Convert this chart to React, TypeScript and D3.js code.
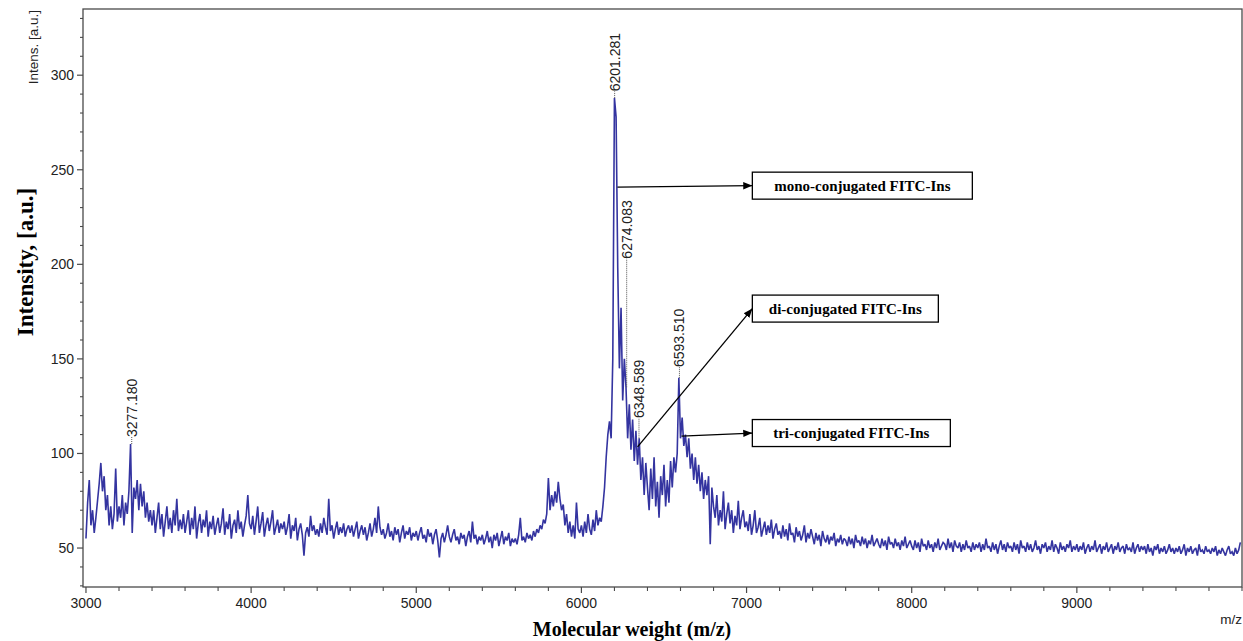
import React from "react";
import * as d3 from "d3";

// ---- data ----
const MZ_START = 3000;
const MZ_STEP = 10;
const intensity: number[] = [
  // 3000
  55, 74, 86, 62, 70, 58, 66, 75, 84, 95, 80, 88, 70, 78, 62, 72, 60, 68, 92, 64,
  // 3200
  72, 66, 78, 62, 74, 68, 80, 105, 58, 82, 76, 86, 70, 84, 72, 80, 66, 74, 64, 70,
  // 3400
  62, 70, 58, 66, 74, 60, 68, 56, 64, 72, 60, 66, 58, 70, 62, 76, 59, 65, 60, 68,
  // 3600
  58, 64, 70, 57, 66, 60, 72, 55, 63, 68, 58, 65, 61, 70, 56, 64, 60, 67, 57, 62,
  // 3800
  66, 58, 63, 71, 57, 64, 60, 68, 55, 62, 65, 58, 70, 60, 64, 56, 62, 67, 78, 63,
  // 4000
  60, 67, 57, 64, 72, 58, 63, 69, 56, 62, 66, 59, 64, 70, 57, 61, 65, 58, 63, 60,
  // 4200
  64, 57, 61, 68, 55, 62, 59, 66, 54, 60, 63, 57, 46, 58, 61, 56, 67, 59, 62, 57,
  // 4400
  60, 56, 63, 58, 66, 61, 57, 76, 59, 62, 55, 60, 64, 57, 61, 58, 63, 56, 60, 62,
  // 4600
  58, 62, 56, 60, 64, 55, 59, 62, 57, 61, 54, 58, 63, 56, 60, 66, 58, 72, 61, 57,
  // 4800
  60, 55, 58, 63, 56, 59, 54, 61, 57, 60, 53, 58, 62, 55, 59, 57, 61, 54, 58, 56,
  // 5000
  59, 54, 58, 61, 55, 57, 53, 60, 56, 58, 52, 57, 60, 54, 45, 55, 58, 53, 57, 62,
  // 5200
  56, 53, 57, 60, 54, 56, 52, 58, 55, 57, 51, 56, 59, 53, 64, 55, 57, 52, 56, 54,
  // 5400
  57, 52, 55, 59, 53, 56, 50, 57, 54, 58, 51, 55, 59, 52, 56, 54, 58, 51, 55, 53,
  // 5600
  55, 52, 57, 66, 54, 56, 53, 58, 55, 57, 54, 59, 56, 60, 58, 62, 60, 65, 63, 68,
  // 5800
  87, 70, 78, 72, 80, 74, 85, 76, 70, 73, 62, 68, 58, 64, 56, 62, 55, 74, 60, 58,
  // 6000
  62, 56, 64, 58, 68, 60, 57, 65, 59, 70, 62, 66, 64, 72, 82, 98, 110, 117, 108, 150,
  // 6200
  288, 278, 198, 145, 177, 128, 150, 135, 108, 126, 102, 118, 96, 112, 94, 108, 86, 98, 78, 95,
  // 6400
  82, 70, 92, 76, 98, 72, 85, 66, 88, 78, 94, 72, 86, 74, 96, 82, 98, 90, 100, 140,
  // 6600
  108, 119, 104, 110, 98, 108, 92, 100, 86, 98, 84, 94, 80, 90, 76, 86, 78, 88, 52, 82,
  // 6800
  72, 66, 78, 62, 70, 64, 80, 60, 68, 74, 63, 70, 58, 67, 62, 75, 60, 66, 70, 61,
  // 7000
  64, 59, 68, 57, 62, 70, 58, 61, 66, 56, 60, 64, 57, 62, 58, 65, 55, 60, 63, 57,
  // 7200
  59, 55, 62, 56, 60, 54, 63, 57, 58, 53, 61, 56, 59, 54, 57, 62, 53, 58, 55, 60,
  // 7400
  56, 52, 58, 54, 57, 51, 59, 55, 53, 57, 52, 56, 54, 58, 51, 55, 53, 57, 52, 55,
  // 7600
  54, 51, 56, 52, 55, 50, 57, 53, 54, 51, 56, 52, 55, 50, 54, 52, 57, 51, 53, 55,
  // 7800
  52, 50, 55, 51, 54, 49, 56, 52, 53, 50, 55, 51, 53, 49, 54, 51, 56, 50, 52, 54,
  // 8000
  51, 49, 54, 50, 53, 48, 55, 51, 52, 49, 54, 50, 52, 48, 53, 50, 55, 49, 51, 53,
  // 8200
  52, 49, 55, 50, 53, 48, 54, 51, 50, 53, 48, 52, 49, 54, 50, 51, 48, 53, 49, 52,
  // 8400
  50, 53, 48, 52, 49, 55, 50, 51, 48, 53, 49, 52, 47, 51, 54, 49, 52, 48, 53, 50,
  // 8600
  51, 48, 53, 49, 52, 47, 54, 50, 51, 48, 53, 49, 52, 48, 50, 54, 49, 51, 47, 52,
  // 8800
  50, 53, 48, 51, 49, 54, 48, 52, 50, 47, 53, 49, 51, 48, 52, 50, 54, 48, 51, 49,
  // 9000
  52, 48, 51, 49, 53, 47, 50, 52, 48, 51, 49, 54, 48, 50, 52, 47, 51, 49, 53, 48,
  // 9200
  50, 52, 47, 51, 49, 53, 48, 50, 51, 47, 52, 49, 50, 48, 53, 47, 50, 52, 48, 51,
  // 9400
  49, 51, 47, 52, 48, 50, 46, 51, 49, 52, 47, 50, 48, 51, 47, 49, 52, 48, 50, 47,
  // 9600
  50, 48, 51, 47, 49, 52, 46, 50, 48, 51, 47, 49, 50, 46, 52, 48, 49, 47, 51, 48,
  // 9800
  49, 47, 50, 48, 51, 46, 49, 47, 50, 48, 46, 49, 51, 47, 48, 46, 50, 47, 49, 53,
];

// labelled peaks
const peakMz = [3277.18, 6201.281, 6274.083, 6348.589, 6593.51];
const peakLabels = ["3277.180", "6201.281", "6274.083", "6348.589", "6593.510"];
const peakTop = [105, 288, 135, 108, 140]; // where the dotted leader starts
const peakLabelAt = [108.7, 291.5, 203, 118.7, 145.7]; // where the label starts

// annotations
const annoText = ["mono-conjugated FITC-Ins", "di-conjugated FITC-Ins", "tri-conjugated FITC-Ins"];
const annoFromMz = [6218, 6340, 6606];
const annoFromVal = [240.8, 103.5, 109.2];
const annoBoxMz = [7035, 7035, 7035];
const annoBoxVal = [241.6, 176.6, 110.8];
const annoBoxW = [220, 186, 198];

const xTicksMajor = [3000, 4000, 5000, 6000, 7000, 8000, 9000];
const yTicksMajor = [50, 100, 150, 200, 250, 300];

export default function App() {
  const W = 1243, H = 641;
  const L = 83, R = 1242, T = 9, B = 587;
  const x = d3.scaleLinear().domain([2982, 10000]).range([L, R]);
  const y = d3.scaleLinear().domain([29.4, 335]).range([B, T]);

  const pts: [number, number][] = intensity.map((v, i) => [MZ_START + i * MZ_STEP, v]);
  const line = d3.line<[number, number]>().x(d => x(d[0])).y(d => y(d[1]));

  const xMinor = d3.range(3000, 10001, 200).filter(v => v % 1000 !== 0 || v === 10000);
  const yMinor = d3.range(30, 335, 10).filter(v => v % 50 !== 0);

  const axisColor = "#4a4a4a";
  const sans = "'Liberation Sans', Arial, sans-serif";
  const serif = "'Liberation Serif', 'Times New Roman', serif";

  return (
    <svg width={W} height={H} style={{ position: "absolute", left: 0, top: 0, background: "#fff" }}>
      <defs>
        <marker id="arr" viewBox="0 0 10 10" refX="10" refY="5" markerWidth="7" markerHeight="7" orient="auto">
          <path d="M0,1 L10,5 L0,9 z" fill="#000" />
        </marker>
      </defs>

      {/* spectrum */}
      <path d={line(pts) || ""} fill="none" stroke="#3434a0" strokeWidth={1.6} strokeLinejoin="miter" strokeMiterlimit={2} />

      {/* frame */}
      <rect x={L} y={T} width={R - L} height={B - T} fill="none" stroke={axisColor} strokeWidth={1.3} />

      {/* y ticks */}
      {yTicksMajor.map(v => (
        <g key={"ym" + v}>
          <line x1={L - 6} x2={L} y1={y(v)} y2={y(v)} stroke={axisColor} strokeWidth={1.2} />
          <text x={L - 9} y={y(v)} dy="0.35em" textAnchor="end" fontFamily={sans} fontSize={14} fill="#222">{v}</text>
        </g>
      ))}
      {yMinor.map(v => (
        <line key={"yn" + v} x1={L - 3} x2={L} y1={y(v)} y2={y(v)} stroke={axisColor} strokeWidth={1.1} />
      ))}

      {/* x ticks */}
      {xTicksMajor.map(v => (
        <g key={"xm" + v}>
          <line x1={x(v)} x2={x(v)} y1={B} y2={B + 6} stroke={axisColor} strokeWidth={1.2} />
          <text x={x(v)} y={608} textAnchor="middle" fontFamily={sans} fontSize={14} fill="#222">{v}</text>
        </g>
      ))}
      {xMinor.map(v => (
        <line key={"xn" + v} x1={x(v)} x2={x(v)} y1={B} y2={B + 4} stroke={axisColor} strokeWidth={1.1} />
      ))}

      {/* axis titles */}
      <text transform={`translate(38,10) rotate(-90)`} textAnchor="end" fontFamily={sans} fontSize={13.5} fill="#222">Intens. [a.u.]</text>
      <text transform={`translate(33,262) rotate(-90)`} textAnchor="middle" fontFamily={serif} fontWeight="bold" fontSize={23} fill="#000">Intensity, [a.u.]</text>
      <text x={632} y={636} textAnchor="middle" fontFamily={serif} fontWeight="bold" fontSize={20} fill="#000">Molecular weight (m/z)</text>
      <text x={1242} y={624} textAnchor="end" fontFamily={sans} fontSize={13.5} fill="#222">m/z</text>

      {/* peak labels */}
      {peakMz.map((m, i) => (
        <g key={"pk" + i}>
          <line x1={x(m)} x2={x(m)} y1={y(peakTop[i])} y2={y(peakLabelAt[i])} stroke="#555" strokeWidth={1} strokeDasharray="1,1" />
          <text transform={`translate(${x(m)},${y(peakLabelAt[i])}) rotate(-90)`} dy="0.36em" textAnchor="start" fontFamily={sans} fontSize={14} fill="#222">{peakLabels[i]}</text>
        </g>
      ))}

      {/* annotations */}
      {annoText.map((t, i) => {
        const bx = x(annoBoxMz[i]);
        const by = y(annoBoxVal[i]);
        const bh = 27;
        return (
          <g key={"an" + i}>
            <line x1={x(annoFromMz[i])} y1={y(annoFromVal[i])} x2={bx} y2={by} stroke="#000" strokeWidth={1.3} markerEnd="url(#arr)" />
            <rect x={bx} y={by - bh / 2} width={annoBoxW[i]} height={bh} fill="#fff" stroke="#000" strokeWidth={1.3} />
            <text x={bx + annoBoxW[i] / 2} y={by} dy="0.35em" textAnchor="middle" fontFamily={serif} fontWeight="bold" fontSize={15} fill="#000">{t}</text>
          </g>
        );
      })}
    </svg>
  );
}
